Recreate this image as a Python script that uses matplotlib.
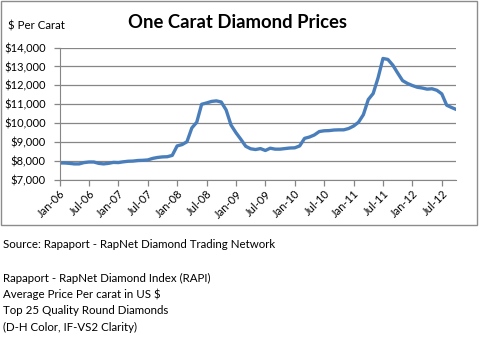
import matplotlib
matplotlib.use("Agg")
import matplotlib.pyplot as plt
import pandas as pd
from matplotlib.patches import Rectangle
from matplotlib.ticker import FuncFormatter

plt.rcParams['font.family'] = ['Lato', 'DejaVu Sans']

# monthly RapNet index, Jan-06 .. Oct-12
prices = [
    7900, 7900, 7880, 7850, 7850, 7920, 7950, 7950, 7880, 7850, 7880, 7930,
    7920, 7960, 7990, 8000, 8030, 8040, 8060, 8140, 8190, 8220, 8230, 8300,
    8800, 8870, 9020, 9750, 10050, 11000, 11070, 11150, 11180, 11120, 10700, 9900,
    9500, 9150, 8780, 8650, 8610, 8660, 8560, 8680, 8630, 8630, 8660, 8690,
    8700, 8800, 9200, 9270, 9380, 9560, 9600, 9610, 9640, 9650, 9650, 9720,
    9850, 10050, 10450, 11250, 11570, 12400, 13420, 13370, 13070, 12650, 12250, 12100,
    11990, 11900, 11860, 11800, 11820, 11740, 11550, 10950, 10830, 10720,
]
months = pd.date_range('2006-01-01', periods=len(prices), freq='MS')
tick_labels = [d.strftime('%b-%y') for d in months[::6]]

title = 'One Carat Diamond Prices'
notes = [
    'Source: Rapaport - RapNet Diamond Trading Network',
    '',
    'Rapaport - RapNet Diamond Index (RAPI)',
    'Average Price Per carat in US $',
    'Top 25 Quality Round Diamonds',
    '(D-H Color, IF-VS2 Clarity)',
]

fig = plt.figure(figsize=(4.8, 3.38), dpi=100)

# chart frame
fig.patches.append(Rectangle((1 / 480, 1 - 225 / 338), 476 / 480, 224 / 338,
                             transform=fig.transFigure, fill=False,
                             edgecolor='#8c8c8c', linewidth=1.0))

ax = fig.add_axes([59.5 / 480, 1 - 180 / 338, 397 / 480, 132.5 / 338])
x = range(len(prices))
ax.plot(x, prices, color='#4a7ebb', linewidth=2.4, solid_capstyle='round')

ax.set_xlim(0, len(prices) - 1)
ax.set_ylim(7000, 14000)
ax.set_yticks(range(7000, 14001, 1000))
ax.yaxis.set_major_formatter(FuncFormatter(lambda v, p: f'${v:,.0f}'))
ax.set_xticks(list(x)[::6])
ax.set_xticklabels(tick_labels, rotation=45, ha='right', va='top',
                   rotation_mode='anchor')
ax.grid(axis='y', color='#868686', linewidth=0.9)
ax.set_axisbelow(True)
for s in ['top', 'right']:
    ax.spines[s].set_visible(False)
for s in ['left', 'bottom']:
    ax.spines[s].set_color('#868686')
ax.tick_params(colors='#868686', labelcolor='black', labelsize=8,
               length=4, width=0.9)
ax.tick_params(axis='y', pad=6)
ax.tick_params(axis='x', pad=2)

fig.text(238 / 480, 1 - 22 / 338, title, ha='center', va='center',
         fontsize=13.3, fontweight='bold')
fig.text(8 / 480, 1 - 26 / 338, '$ Per Carat', ha='left', va='center',
         fontsize=8.3)

y0 = 245
for i, line in enumerate(notes):
    fig.text(3 / 480, 1 - (y0 + i * 16.5) / 338, line, ha='left',
             va='center', fontsize=8.3)

fig.savefig('out.png', dpi=100)
